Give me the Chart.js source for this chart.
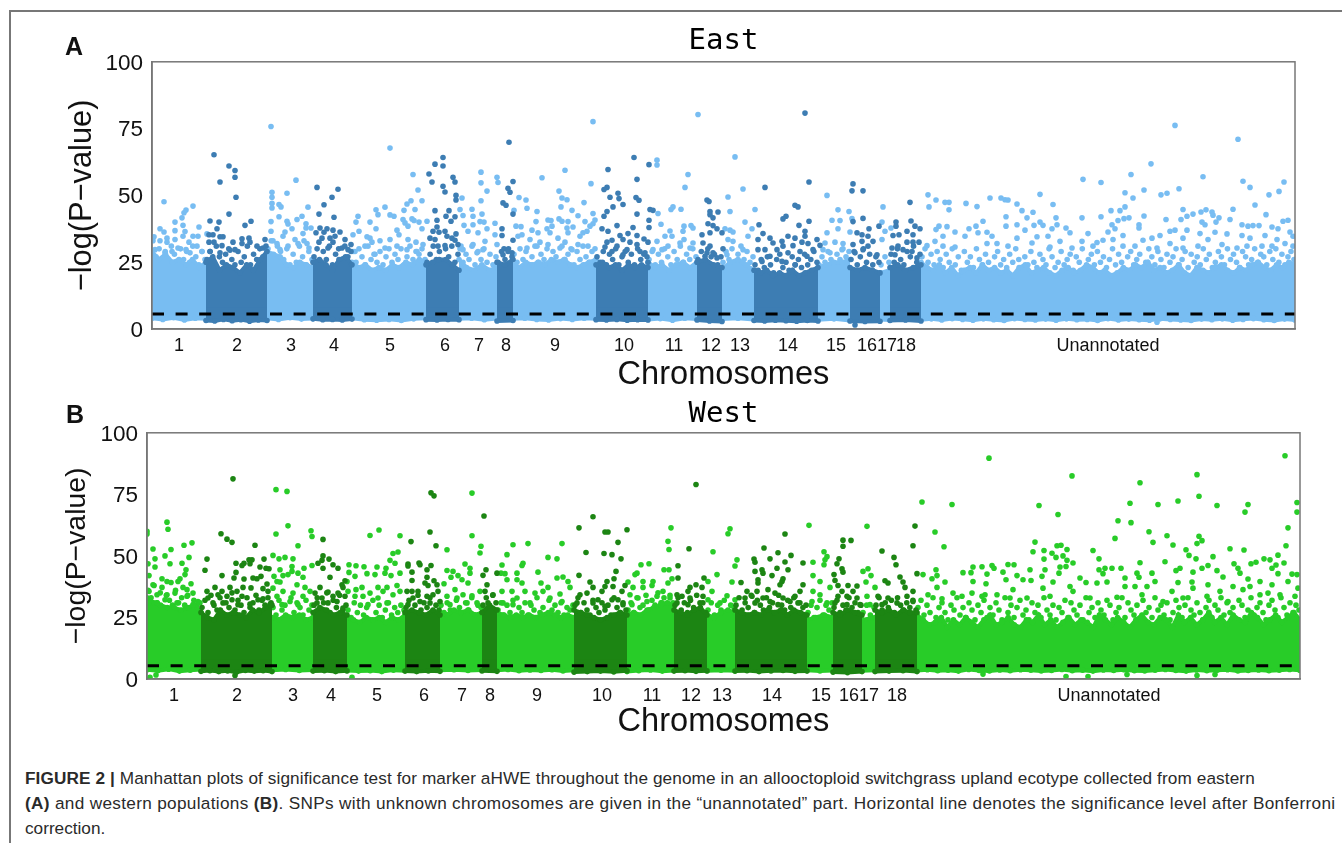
<!DOCTYPE html>
<html>
<head>
<meta charset="utf-8">
<script src="https://cdn.jsdelivr.net/npm/chart.js@4/dist/chart.umd.min.js"></script>
<style>
body { margin: 0; background: #fff; width: 1342px; height: 843px; position: relative; overflow: hidden; font-family: "Liberation Sans", Arial, sans-serif; }
canvas { position: absolute; left: 0; }
#chartEast { top: 0; }
#chartWest { top: 395px; }
.panel { position: absolute; font-weight: bold; font-size: 25px; line-height: 25px; color: #111; }
.rule { position: absolute; background: #777; }
.cap { position: absolute; left: 25px; font-size: 17.2px; line-height: 18px; white-space: nowrap; color: #2a2a2a; }
</style>
</head>
<body>
<div class="rule" style="left:9px;top:10px;width:1333px;height:1.5px"></div>
<div class="rule" style="left:9px;top:10px;width:1.5px;height:833px"></div>
<canvas id="chartEast" width="1342" height="395"></canvas>
<canvas id="chartWest" width="1342" height="350"></canvas>
<div class="panel" style="left:65px;top:34px">A</div>
<div class="panel" style="left:66px;top:402px">B</div>
<div class="cap" style="top:769px;letter-spacing:0.1px"><b>FIGURE 2 |</b> Manhattan plots of significance test for marker aHWE throughout the genome in an allooctoploid switchgrass upland ecotype collected from eastern</div>
<div class="cap" style="top:794px;letter-spacing:0.32px"><b>(A)</b> and western populations <b>(B)</b>. SNPs with unknown chromosomes are given in the “unannotated” part. Horizontal line denotes the significance level after Bonferroni</div>
<div class="cap" style="top:819px">correction.</div>
<script>
const chromosomes = ['1','2','3','4','5','6','7','8','9','10','11','12','13','14','15','16','17','18','Unannotated'];
const eastTicks = [27,85,139,182,238,293,327,354,403,472,522,559,588,636,684,715,735,754,956];
const westTicks = [27,90,146,184,230,277,315,343,390,455,505,544,575,625,674,702,722,750,962];
const eastEdges = [0,54,115,161,200,274,307,345,361,444,496,545,570,602,666,698,728,738,769,1143];
const westEdges = [0,54,125,166,200,258,293,335,350,427,480,527,560,588,660,686,715,728,770,1153];
const eastCutoff = 5.6;
const westCutoff = 5.4;

// top of the packed band, one list per chromosome
const eastTops = [
  [29,26,28,25,26,24,26,23,25],
  [25,27,22,24,23,21,24,22,26,29],
  [29,28,27,24,23,25,24,23],
  [25,26,24,22,26,27,24],
  [25,23,24,22,23,22,24,23,25,24,26,25],
  [24,25,26,26,24,22],
  [26,23,22,24,22,23],
  [25,24,26],
  [24,23,25,24,25,24,26,25,26,24,23,24,25,26],
  [24,25,23,24,22,24,23,24,23],
  [25,23,24,22,24,25,23,25],
  [25,26,24,23],
  [22,25,26,24,22],
  [22,21,22,20,21,20,22,20,21,22,23],
  [23,24,25,25,26],
  [23,22,23,22,21],
  [21,22],
  [23,24,22,23,24],
  [25,23,22,24,21,23,20,22,23,21,24,22,23,21,22,20,23,24,21,22,23,21,20,22,23,21,22,24,23,21,22,20,21,23,22,24,23,25,22,23,21,22,24,21,20,23,22,21,23,24,22,21,23,22,24,25,23,22,24,23,25,24]
];
const westTops = [
  [33,31,30,29,29,28,29,30,27],
  [27,25,24,28,26,27,26,25,28,27,29,30],
  [25,24,26,25,26,24,25],
  [27,29,28,26,27,26],
  [25,24,23,25,24,25,23,25,24,26],
  [27,28,27,26,28,26],
  [27,26,28,27,28,26,27],
  [27,30,28],
  [27,26,25,26,25,26,25,26,27,26,25,26,25],
  [28,27,26,25,24,25,26,27,26],
  [26,27,26,28,29,30,31,30],
  [28,27,26,28,29,26],
  [26,25,27,28,27],
  [28,27,26,27,26,28,27,28,26,28,27,26],
  [24,25,26,25],
  [27,26,28,27,26],
  [24,25],
  [28,27,28,26,28,27,27],
  [26,24,22,23,25,21,24,22,25,23,21,24,26,22,23,25,22,21,24,23,26,22,24,21,23,25,22,24,23,21,26,24,22,25,23,21,24,26,23,22,25,24,21,26,23,25,22,24,27,23,25,22,26,24,23,27,25,22,24,26,23,25,27,24]
];

// loose dots just above the packed band
const eastFringes = [
  [33,27,30,25,29,26,31,28,24,30,26,29,25,31,27,24,29,26],
  [26,29,24,31,27,25,28,30,26,24,29,25,27,31,24,28,26,30,27,31],
  [30,33,27,31,29,26,30,24,28,25,31,27,24,29,26],
  [27,30,25,29,26,31,24,28,30,26,31,27,29],
  [29,25,30,27,24,31,26,28,25,29,24,27,30,25,28,26,30,24,27,31,26,29,28,30,26],
  [25,28,31,26,29,24,30,27,31,25,28],
  [30,25,28,26,31,24,29,26,30,25,28,24,27],
  [25,29,26,30,27],
  [28,25,30,26,29,24,27,31,25,28,26,30,24,29,27,25,31,26,28,30,24,29,26,31,27,25,29,30],
  [27,25,29,24,28,26,30,24,27,29,25,28,24,30,26,28,27],
  [26,29,24,28,25,30,27,24,29,26,31,25,28,26,30,27],
  [26,29,25,30,27,28,24,27],
  [25,29,26,30,24,28,31,26,29,25,27],
  [24,22,26,23,27,24,21,26,28,23,25,22,27,24,26,23,28,24,26,29,25],
  [24,27,25,29,26,24,28,26,30,27,29],
  [26,29,24,27,30,25,28,24,27,25],
  [24,27,25],
  [28,25,30,26,24,29,27,31,25,28],
  [27,30,25,28,24,29,26,23,28,25,30,24,27,22,29,25,27,23,30,26,24,28,25,22,27,29,24,26,23,28,25,30,26,22,27,24,29,25,23,28,26,24,30,27,23,25,29,24,26,28,22,27,25,30,23,26,28,24,29,25,27,23,26,30,24,28,25,22,27,29,24,26,28,23,25,30,27,24,29,26,23,28,25,27,30,24,26,29,23,28,25,27,24,30,26,28,23,25,29,27,24,30,26,28,25,23,29,27,24,26,30,25,28,27,24,29,26,30,25,28,24,27,29,26]
];
const westFringes = [
  [36,33,38,31,35,29,34,32,30,36,31,33,30,34,29,32,30,31],
  [29,32,27,34,30,28,33,26,31,29,35,28,32,30,27,33,29,31,34,28,32,30,33,31],
  [29,26,32,28,30,25,33,27,31,29,26,32,28,30],
  [30,33,28,31,35,27,32,29,34,28,30],
  [28,25,31,27,30,26,29,24,32,27,30,25,28,31,26,29,27,30,28],
  [29,32,27,30,34,28,31,29,33,27,30,28],
  [30,27,31,28,26,32,29,27,31,28,33,26,30,29],
  [30,33,28,34,31],
  [28,31,26,30,27,32,25,29,27,31,26,30,28,33,27,29,26,32,28,30,27,31,26,29,28,30],
  [30,33,27,31,28,26,32,29,27,31,28,30,26,33,29,27,31,28],
  [28,31,27,33,29,30,34,28,32,30,35,31,33,29,34,31],
  [30,33,28,31,27,32,29,34,28,31,27],
  [28,31,26,30,28,32,27,30,29],
  [30,33,28,31,29,34,27,32,30,28,33,29,31,27,34,30,28,32,29,33,27,31,29,30],
  [27,30,25,29,32,26,30,28,31],
  [29,32,27,30,28,33,29,31,27,30],
  [27,30,26,29],
  [30,33,28,31,29,32,27,33,30,28,31,29,32,28],
  [29,32,26,30,27,33,25,29,31,27,24,30,28,33,26,29,25,31,28,24,30,27,32,25,29,26,31,28,24,33,27,30,25,29,32,26,28,24,31,27,30,25,33,28,26,30,24,29,27,32,25,31,28,26,30,24,33,27,29,25,31,28,26,32,30,24,27,29,33,25,31,28,26,30,24,32,27,29,25,33,28,30,26,31,24,27,32,29,25,30,33,28,26,31,27,24,29,32,25,30,28,33,26,31,27,29,24,32,30,25,28,33,26,29,31,27,24,30,32,28,25,33,29,26,31,27,30,28]
];

// bottom of the packed band
const eastBottoms = [
  [4,3.6,4.2,3.4,4,3.8],[3.2,3,3.6,3.1,3.5,2.9,3.4,3.2],[4,3.6,4.2,3.7,3.9],[3.8,3.5,3.6,3.4,3.7],[4,3.5,3.3,3.6,3.2,3.8,4],[3.5,3.4,3.6,3.5],[3.8,4,3.5,3.9],[3,3.2],
  [3.8,4,3.6,3.4,3.9,3.6,4,3.8],[3.5,3.4,3.6,3.3,3.5,3.4],[3.6,3.9,3.3,4,3.7],[3.4,3,2.8],[3.7,4,3.6],[3.2,3,3.3,3.1,2.9,3.2,3],[3.5,3.8,3.2],[3,2.8,2.9],[3.6,3.4],[3.2,3.4,3],
  [3.5,3.8,3.4,3.9,3.6,3.3,3.8,3.5,3.2,3.9,3.6,3.4,3.7,3.3,3.8,3.5,3.6,3.2,3.9,3.4,3.7,3.5,3.3,3.8,3.6,3.4,3.2,3.7,3.5,3.8,3.3,3.6,3.9,3.5,3.2,3.7,3.4]
];
const westBottoms = [
  [3.8,3.4,4,3.2,3.6,3.9],[3.1,3.4,3,3.3,2.8,3.5,3.2,3.4,3],[3.6,3.9,3.5,3.7],[3.2,3.4,3,3.3],[3.5,3.2,3.4,3,3.6,3.4],[3.2,3,3.3,3.1],[3.6,3.8,3.5,3.7],[3.3,3.1],
  [3.6,3.9,3.4,3.7,3.5,3.8,3.3,3.6],[2.8,3,3.2,2.9,3.3],[3,3.4,3.7,3.2,3.5],[3.2,3.4,3.1,3.3],[3.4,3.6,3.3],[3.2,3.4,3,3.3,3.5,3.1,3.2],[3.6,3.3,3.5],[2.8,2.6,3],[3.4,3.6],[3,3.2,3.4,3],
  [3.5,3.8,3.4,3.6,3.2,3.9,3.5,3.3,3.7,3.4,3.8,3.6,3.3,3.5,3.9,3.4,3.6,3.2,3.7,3.5,3.8,3.4,3.3,3.6,3.9,3.5,3.2,3.7,3.4,3.6,3.8,3.3,3.5,3.7,3.4,3.6,3.9,3.5]
];

// position along the genome, -log(P)
const eastLightA = [
  [12,47.6],[8,37.5],[12,36.3],[15,34],[2,34.5],[23,40],[30,41.6],[32,43.5],[34,44.5],[41,46],[31,38.8],[23,36.8],[33,36.5],[47,38.2],[41,34.7],[46,34.7],[37,32.5],[23,33.5],[31,34.7],[15,32.5],[55,35.6],[8,33],[45,31],[34,29.7],[20,29],[26,30.3],[3,29.7],[13,28.5],[38,28.5],[50,29],
  [119,75.8],[120,51.2],[120,49.3],[120,47],[120,45.3],[127,46.6],[129,45.7],[135,50.8],[144,55.7],[156,45.6],[119,40.2],[127,42],[135,40.3],[136,39.3],[145,41],[150,42.2],[154,39.4],[159,37.8],[140,37.5],[154,37.8],[133,36.3],[119,36.6],[151,35.7],[131,34.7],[143,33.5],[121,33],[125,32],[136,31],[155,32],[146,32],[152,33],[157,30.3],[128,29.7],
  [238,67.7],[261,57.8],[266,52],[233,45.6],[224,44.6],[226,42.8],[238,42.7],[242,42.2],[259,48],[255,46.8],[252,44.4],[263,44.7],[270,48],[251,41],[260,41.2],[262,40.6],[267,40],[275,40.3],[206,42.2],[204,40],[218,40],[253,39.7],[256,38.5],[270,37.5],[207,36.6],[224,37.5],[215,34.5],[218,34],[245,37],[247,35.3],[256,33.5],[220,32.5],[228,33],[238,33.5],[264,32.5],[271,31.6],[201,35.3],[213,31],[245,31],[233,30.3],[255,29.7],[265,29],[223,28],[203,29],
  [329,58.7],[329,54.7],[335,51.6],[345,56.8],[346,54.8],[310,49],[329,48],[320,44.8],[330,43],[308,44.7],[311,42.5],[321,42.2],[328,40.2],[332,40],[343,39.6],[312,38.8],[321,39],[335,37.5],[316,36.6],[343,35.3],[326,36],[311,29.7],[321,31.6],[333,32.8],[345,31.6],[325,28.5],[331,29.7],[309,31]
];
const eastLightB = [
  [390,56.6],[413,59.4],[367,49.2],[374,48.3],[375,45.2],[362,44.4],[385,44],[407,51.6],[410,49],[415,48.4],[409,45.7],[420,44.4],[432,47.3],[426,42.4],[441,43.2],[439,54.4],[441,77.6],[384,40.2],[396,40.8],[399,40.6],[407,41.2],[410,40.3],[416,40.2],[433,40.2],[443,40.8],[364,38.5],[369,38.3],[380,37],[386,36],[395,37.5],[400,38.5],[415,37.8],[421,38.2],[438,38.5],[441,39.4],[435,36.6],[366,34.7],[378,33.5],[370,35.3],[388,32.5],[398,36],[406,34],[416,36],[428,34.7],[431,36],[375,30.3],[385,31],[396,31.6],[408,30.3],[413,32.5],[426,31.6],[420,29.7],[436,31],
  [505,63.2],[505,61.4],[536,57.8],[533,53],[521,45.7],[519,44.7],[529,44.8],[506,43.2],[509,39.2],[518,36.7],[532,38.5],[539,38.7],[513,34.7],[520,34.7],[531,36.6],[541,37.8],[505,32.8],[516,31],[528,32.2],[538,30.3],[501,29.7],[510,29.7],[532,33.5],[541,32.2],
  [546,80.3],[583,64.4],[591,52.4],[576,49.4],[578,44],[593,40],[573,37.5],[578,37],[581,36.3],[576,33.5],[581,32.8],[596,34.7],[600,37.5],[591,29.7],[575,27.8],
  [603,44.7],[675,50],[686,44.6],[697,44],[680,40.7],[688,40.6],[686,37.5],[675,36],[698,36.3],[700,41.3],[673,32.2],[683,32.5],[691,32],[690,29.7],[678,28.5],[671,29.7],
  [731,45.7],[730,40],[733,36.6],[739,37.8],[730,33.5]
];
const eastUnannotated = [
  [1023,76.2],[1086,71],[999,61.8],[979,57.8],[1051,57],[931,56],[949,54.8],[1091,55.3],[1132,55],[1098,53],[973,51],[992,52],[1027,52.5],[1015,50.8],[1009,50.2],[981,49],[1127,51.5],[1117,50.2],[888,50.4],[776,50.2],[777,45.7],[784,48.3],[793,47.4],[797,47.4],[797,44.6],[814,47],[825,45.8],[838,49],[849,49],[853,48.4],[856,48.3],[865,46.8],[870,44.3],[881,43.7],[875,41.6],[901,46.6],[854,42],[904,41.6],[930,41.6],[949,42],[959,44.3],[968,44.3],[973,45.7],[992,42.3],[972,41.3],[977,41.6],[966,40.6],[960,39],[1014,41],[1029,41],[1031,44.7],[1035,42.2],[1041,43],[1049,43.8],[1054,44.6],[1060,43.8],[1061,42.6],[1067,41.6],[1078,41],[1081,44.8],[1103,46.4],[1114,42.8],[1131,40.3],[1136,40.7],
  [1090,39],[1096,38.5],[1101,38.7],[1107,38.7],[1120,38.2],[1126,37.5],[1050,40],[1053,39],[1064,40],[831,40.3],[824,38.5],[817,37.5],[854,38.5],[865,39],[888,40],[882,38.8],[891,38.8],[787,38.5],[795,38.3],[784,37.2],[803,36.3],[873,37],[900,37.5],[905,39],[914,37.8],[918,36],[936,35.7],[956,36.3],[963,37.5],[987,39],[987,37.8],[971,35],[1000,34],[1018,36.6],[1023,37],[1008,35],[1035,37],[1048,35.7],[1063,36.2],[1075,35.6],[1090,35],[1113,35],[1138,36.3],[1141,34.7],[1125,33.5],[1098,34],[813,34.7],[826,36],[835,36.2],[840,34.7],[791,34.7],[783,32.8],[865,34],[885,34.5],[896,34.7],[930,32.8],[951,33.2],[961,33.5],[991,33.2],[1031,34],[1056,33.5],
  [775,31.2],[791,31],[803,30.7],[835,32],[845,32],[856,31],[880,32.2],[898,30.7],[908,32.8],[920,30.3],[941,31],[945,32.4],[971,31],[983,31],[1005,30.3],[1018,32],[1031,30.3],[1046,31],[1070,31.6],[1085,30.3],[1095,31],[1110,31],[1120,31],[1133,32],[1141,31],[1005,2.5]
];
const eastDarkA = [
  [62,65.2],[68,55],[77,61],[83,59.3],[83,56.8],[84,49.3],[77,43],[58,40.4],[67,40],[93,38.8],[99,40.3],[65,37.5],[57,35.3],[61,35.3],[68,34.5],[71,34.5],[57,32.5],[62,32.5],[81,32.5],[90,33.8],[97,34],[98,32.5],[90,32],[70,31.2],[105,31],[113,33.5],[111,30.3],[78,29.5],[83,29.7],[58,29],[68,28.5],
  [165,53],[186,52.3],[180,49.3],[172,46.5],[167,43],[182,41.8],[168,37.8],[175,37.5],[164,36],[172,36.2],[181,37],[188,36.3],[183,34.7],[170,34],[178,34],[193,33.5],[167,32.5],[181,32.5],[199,31.6],[176,30.3],[190,30.3],[196,29.7],
  [291,64.2],[283,61.7],[291,61],[277,58],[301,56.8],[280,55],[303,55],[291,53.4],[293,51.3],[304,50],[304,48.3],[283,44.3],[297,44.3],[294,42.2],[303,42],[285,40.7],[299,40.3],[285,38.2],[281,36.6],[287,36.2],[293,36.6],[304,35.6],[278,34],[283,33.5],[295,34.7],[300,34],[303,33.2],[293,31.2],[306,31.6],[286,31],
  [357,69.9],[361,55.2],[356,52.7],[358,51.2],[351,47.2],[354,46.3],[361,43],[350,37.5],[350,35],[361,33.2],[352,30],[356,29],[360,28.5],[351,27.8]
];
const eastDarkB = [
  [482,64.2],[456,59.7],[485,56],[497,61.5],[455,53],[452,52.2],[466,50.8],[458,49.3],[467,48.8],[484,49.2],[487,48.2],[471,46.6],[461,45.7],[498,44.7],[501,44.4],[455,44],[452,42.2],[485,43],[497,40.7],[497,38],[465,38.7],[481,38],[450,37.5],[456,36.6],[468,35],[476,35.7],[485,35],[460,33.2],[455,32.5],[471,33.5],[492,33.7],[478,32.5],[453,30.7],[465,31],[485,31.6],[496,32.5],[475,29.7],[460,29],[488,29],[493,28.5],[471,27.8],[496,25],
  [555,48.3],[557,47.7],[558,44],[558,42.8],[566,43.8],[561,41.6],[556,39.4],[561,38.7],[565,37.5],[570,36],[558,36],[550,35.3],[551,32.2],[571,30],[558,31],[555,28.5],[561,28.5],[553,27.2],[565,26.6],
  [653,80.8],[657,55],[613,53],[643,46.3],[646,45.7],[634,42.2],[631,41.2],[607,39],[657,40.3],[647,38.8],[653,36.6],[653,34.7],[611,35.7],[618,34],[643,34],[636,34.7],[630,32.8],[606,33.5],[665,33.5],[668,31.3],[621,32.2],[641,31.2],[650,32.5],[656,32],[613,29.7],[625,29.7],[631,31],[606,29.7],[661,29.7],[648,29],[636,28.5],[618,27.2],[655,27.2],[610,25.3],[630,25.3],[643,24],
  [701,54.3],[700,51.7],[711,51.7],[701,40.2],[711,41.4],[717,37.5],[705,36],[710,35.3],[716,34.7],[721,32.8],[701,31.6],[710,32.8],[716,31],[725,27.8],[703,28.5],[711,29.7],[703,1.5],[727,38.5],
  [758,47.4],[759,40.4],[744,40],[744,38.5],[763,38.5],[768,37.5],[755,36.6],[741,35],[747,35.3],[761,35.3],[767,32.5],[755,32.5],[740,30.3],[746,31],[761,32.5],[751,29.7],[760,29],[743,27.8],[765,26.6]
];

const westLightA = [
  [0,60],[0,58.9],[20,63.7],[21,60.8],[6,52.8],[24,52.6],[37,54.3],[45,55.3],[18,50],[42,49.4],[8,48.8],[35,47],[23,46.8],[8,45.5],[1,46.8],[39,44.4],[2,42],[38,42.4],[15,40.7],[33,40.7],[20,39.6],[24,39.2],[44,38.7],[31,39.6],[6,38.3],[15,37.2],[36,37.2],[40,36.3],[46,34.9],[28,34.9],[20,34.2],[40,33.6],[2,35.6],[10,34.2],[51,31.5],[46,30.2],[18,32.2],[30,30.9],[2,30.9],[10,30.9],[3,0.7],[9,1.6],
  [129,76.9],[140,76.2],[141,62.2],[129,58.9],[151,54.1],[126,50.2],[132,48.8],[138,49.4],[146,48.8],[145,45.7],[145,43.7],[157,45],[165,46.1],[133,44.4],[151,43],[136,42],[141,42.4],[127,41.7],[156,41.3],[130,39.6],[133,39.4],[150,38.3],[158,37.2],[136,35.6],[146,34.9],[126,36.9],[163,35.6],[156,33.6],[130,33.6],[143,31.5],[135,30.2],[151,30.2],[164,60.2],[165,57.9],
  [232,60.5],[223,58.3],[253,58.2],[246,51],[251,51.6],[243,48.2],[239,45],[248,47],[202,46.4],[209,46],[217,45.6],[230,45.5],[238,43],[220,42.8],[202,43.3],[208,41.7],[228,42.4],[253,43],[244,42],[200,39.6],[250,38],[240,37.2],[231,37.2],[215,37.2],[209,36.3],[201,35.6],[223,34.9],[236,35.6],[246,34.2],[208,33.6],[216,33.6],[231,32.9],[253,35.6],[221,30.2],[240,30.9],[205,0.7],
  [325,75.5],[325,58.2],[334,53.9],[300,52.5],[333,51.2],[318,46.7],[300,44.1],[306,43.7],[323,45],[311,42],[304,41.3],[315,40.3],[323,43],[321,39],[297,38.7],[308,36.3],[300,33.6],[316,34.2],[325,33.8],[310,32.9],[333,35.6],[303,30.2],[320,30.9],[330,30.9]
];
const westLightB = [
  [366,54.5],[381,55],[415,55],[360,50.5],[355,46.3],[376,47],[375,46.1],[401,49.4],[410,48.8],[391,43.4],[354,43],[358,42.8],[370,43],[360,40.3],[370,40.3],[375,39],[394,39],[410,41],[416,41.4],[421,39.6],[423,37.2],[401,37.2],[365,35.6],[378,35.6],[388,34.9],[396,35.6],[413,34.5],[355,35.6],[403,32.9],[370,32.9],[383,30.9],[356,30.9],[415,31.5],[366,30.2],
  [524,61.4],[521,55.9],[522,52.6],[502,46.8],[494,46.4],[490,43],[517,44.4],[522,44.4],[488,42.4],[481,39.4],[496,39.6],[506,39.6],[525,40.7],[521,39],[486,37.2],[496,37.2],[505,38],[483,34.2],[491,32.9],[516,35.6],[510,33.6],[500,31.5],[523,32.9],[485,30.2],[515,30.9],
  [583,61],[581,59],[566,51.7],[570,42.4],[561,39.6],[585,39.4],[565,35.6],[580,33.8],[588,32.2],[573,30.9],[561,32.2],[590,48.4],[588,45.9],
  [662,62.4],[677,51.7],[680,49.7],[678,48.4],[677,46.4],[666,47.4],[666,42],[673,39.6],[683,37.2],[666,35.6],[673,34.2],[665,31.5],[680,30.9],
  [720,62],[721,44.8],[716,43.7],[724,42],[719,39.4],[728,37.2],[720,33.6],[723,30.2]
];
const westUnannotated = [
  [842,89.7],[925,82.5],[1138,90.7],[1050,83],[993,79.7],[1052,74.2],[775,71.9],[805,70.9],[892,70.5],[983,71.4],[1011,70.9],[1031,72.3],[1101,70.9],[1070,70.5],[1150,71.7],[1150,67.8],[1098,67.8],[911,66.8],[971,64.3],[984,63.5],[1141,61.4],[1002,59.8],[788,59.7],[1020,58.2],[968,57.1],[1052,58],[1055,56.2],[1050,55],[1006,55.5],[1026,54.4],[797,53.7],[888,55.6],[886,51.7],[897,52.2],[905,51.1],[910,54.1],[914,54.3],[920,52.6],[909,49.4],[916,50],[897,48.7],[920,48.2],[926,47.1],[946,52.2],[952,48.8],[1139,54.1],[1083,52.9],[1097,52.4],[1039,52.5],[1042,50.2],[1066,49.7],[1049,48.8],[1018,47.6],[993,47.2],[1131,50.3],[1117,48.8],[1123,48.4],[1137,47.1],[1109,47.4],[1104,46.8],[1087,46.8],[1091,45],[1129,46.3],[1125,45],[1061,46.1],[1055,45],[1033,45],
  [789,44.4],[826,45.5],[835,45.6],[845,46.1],[847,45],[861,46.5],[867,46.4],[883,44.4],[898,44.4],[913,45.5],[919,45.7],[952,44.4],[958,45],[965,45],[974,45],[816,43.2],[824,43.2],[840,42.6],[856,43.4],[870,42],[895,41.7],[912,43],[956,42.8],[990,43],[1005,43],[1029,44],[1046,43.4],[1070,44],[1093,43],[1131,42.8],[1145,42.6],[1150,42.4],[776,42.4],[790,42],[785,40.7],[798,39.4],[826,39.6],[839,38.7],[859,40.3],[876,40.3],[884,40],[906,39.4],[933,41],[939,39.2],[950,39],[960,39.4],[978,41],[992,41.3],[1008,39.6],[1031,39.2],[1045,39.4],[1061,38.3],[1076,41.4],[1101,40.6],[1113,39.6],[1125,38.3],[1141,39.6],[1086,37.6],[1103,37.6],
  [790,37.2],[806,34.9],[825,34.9],[838,34.2],[850,34.2],[866,36.3],[896,36.9],[923,37.6],[978,37.6],[988,37.6],[1000,37.6],[1025,35.6],[1046,36.9],[1073,35.6],[1096,36.3],[1121,34.9],[1151,36.9],[781,34.2],[795,32.6],[815,33.6],[835,33.6],[863,32.9],[880,32.9],[903,33.6],[926,35.6],[943,32.9],[970,33.2],[995,34.2],[1016,31.5],[1036,32.9],[1060,33.6],[1081,31.5],[1113,34.2],[1133,34.2],[1148,33.6],[919,1],[941,1],[980,1.8],[1050,1.4],[1068,1.8],[836,2]
];
const westDarkA = [
  [86,81.3],[74,59],[80,56.8],[85,55.5],[108,54.3],[60,48.7],[58,44.2],[75,42],[89,47],[95,46.1],[97,47],[103,46.8],[105,48.4],[102,48.4],[117,48.7],[113,45.5],[119,45],[122,44.8],[89,43.3],[87,41],[97,40.6],[114,41.7],[110,40.7],[106,41],[120,38.6],[116,36.7],[104,37],[96,37.2],[83,37.2],[60,35.6],[68,37.2],[75,35.6],[90,35.6],[71,34.2],[61,32.9],[80,33.6],[95,33.6],[85,32.2],[111,32.2],[103,30.4],[116,32.6],[121,35.6],[66,30.9],[76,30.9],[91,30.2],[123,30.2],[88,1.4],
  [176,56.7],[176,50],[175,48.2],[182,48.7],[186,46.4],[191,45],[176,45],[171,47],[183,41.3],[198,39.9],[195,38.3],[196,37.2],[173,37.2],[168,34.9],[181,35.3],[191,34.9],[198,33.6],[186,33.6],[175,32.9],[170,30.9],[190,31.5],[181,30.9],[196,28.8],
  [284,75.6],[287,74.4],[283,59.7],[264,55.8],[289,54.1],[261,46.7],[261,45.9],[272,47.1],[273,46.4],[284,46.1],[280,44.4],[265,43.4],[265,40],[280,41.3],[278,39],[281,38],[287,39.9],[290,38.3],[291,35.6],[265,35.6],[271,35.6],[260,35.6],[280,33.6],[286,34.2],[266,32.9],[293,31.5],[273,31.5],[261,30.2],[283,30.9],
  [337,66.2],[339,44.4],[336,42.1],[350,43],[340,38.3],[338,35.6],[346,34.2],[341,30.9]
];
const westDarkB = [
  [446,65.9],[432,61.4],[458,59.7],[461,59.7],[480,60.6],[471,55.5],[439,51.4],[457,51],[465,50.5],[474,48.8],[469,43.7],[432,42.1],[467,40.7],[460,39.6],[443,39.4],[446,37.2],[466,37.6],[458,37.6],[478,38],[475,35.6],[440,34.9],[433,34.2],[455,35.6],[451,32.2],[465,32.2],[471,32.2],[430,30.9],[446,30.9],[476,30.2],[458,29.5],
  [549,79],[542,52.9],[531,46],[531,41],[557,41],[549,38.3],[543,37.2],[541,35.6],[555,37.2],[530,34.2],[535,33.6],[543,32.9],[556,33.6],[530,30.9],[553,30.9],[541,30.2],
  [638,58.9],[617,53.2],[631,51.3],[644,50.2],[623,48.8],[638,47.5],[656,47.1],[607,48.7],[608,47.4],[630,45],[608,43.7],[615,44.4],[616,43],[641,44.4],[625,42],[636,40.7],[635,39.6],[611,40.3],[611,39],[594,39.2],[633,38.3],[656,38.3],[600,35.6],[610,35.6],[621,36.3],[628,34.9],[653,35.6],[648,33.6],[605,33.6],[598,32.9],[616,32.9],[636,32.9],[623,31.5],[643,31.5],[631,30.2],[651,30.9],[608,30.9],
  [696,56.4],[704,56.3],[696,53.9],[692,48.8],[690,46.8],[695,44.8],[696,43.4],[687,42.4],[688,40],[691,38],[701,38],[710,37.8],[695,35.6],[706,35.6],[691,33.6],[700,33.6],[710,32.9],[688,30.9],[713,30.2],[700,30.2],
  [735,52],[747,49.4],[749,46.4],[766,54.1],[768,62.1],[738,39.9],[753,41.4],[756,39.4],[758,37.2],[770,42.8],[741,39],[766,35.6],[731,33.6],[741,32.9],[750,30.9],[760,33.6],[766,31.5],[735,30.2]
];

const eastLight = '#78bdf2';
const eastDark = '#3d7db3';
const westLight = '#28cc28';
const westDark = '#1c8513';
const dotRadius = 2.8;

const plotFrame = {
  id: 'plotFrame',
  afterDraw(chart) {
    const { ctx, chartArea: a } = chart;
    ctx.save();
    ctx.strokeStyle = '#777';
    ctx.lineWidth = 1.5;
    ctx.strokeRect(a.left, a.top, a.right - a.left, a.bottom - a.top);
    ctx.restore();
  }
};

function toDots(pairs) {
  return pairs.map(p => ({ x: p[0], y: p[1] }));
}

// spread one list of readings evenly across a chromosome's span
function acrossSpan(values, from, to) {
  const step = values.length > 1 ? (to - from) / (values.length - 1) : 0;
  return values.map((y, i) => ({ x: from + i * step, y }));
}

function bandDatasets(tops, bottoms, fringes, edges, light, dark) {
  const out = [];
  tops.forEach((top, i) => {
    const color = i % 2 === 0 || i === 18 ? light : dark;
    const order = color === dark ? 3 : 5;
    const from = edges[i];
    const to = edges[i + 1];
    [[top, 8], [bottoms[i], 12]].forEach(([list, base]) => {
      out.push({
        data: acrossSpan(list, from, to),
        showLine: true,
        tension: 0,
        fill: { value: base },
        borderColor: color,
        backgroundColor: color,
        borderWidth: 4,
        pointRadius: dotRadius,
        pointBackgroundColor: color,
        pointBorderWidth: 0,
        order
      });
    });
    out.push({
      data: acrossSpan(fringes[i], from + 1, to - 1),
      backgroundColor: color,
      pointRadius: dotRadius,
      pointBorderWidth: 0,
      order
    });
  });
  return out;
}

function dotDataset(pairs, color, order) {
  return { data: toDots(pairs), backgroundColor: color, pointRadius: dotRadius, pointBorderWidth: 0, order };
}

function drawPanel(id, opts) {
  const datasets = [
    { data: [{ x: 0, y: opts.cutoff }, { x: opts.xMax, y: opts.cutoff }], showLine: true, borderColor: '#000', borderWidth: 3, borderDash: [12, 11.6], pointRadius: 0, order: 0 },
    dotDataset(opts.darkDots, opts.dark, 2),
    dotDataset(opts.lightDots, opts.light, 4),
    ...bandDatasets(opts.tops, opts.bottoms, opts.fringes, opts.edges, opts.light, opts.dark)
  ];
  new Chart(document.getElementById(id), {
    type: 'scatter',
    data: { datasets },
    plugins: [plotFrame],
    options: {
      responsive: false,
      animation: false,
      events: [],
      layout: { padding: opts.padding },
      plugins: {
        legend: { display: false },
        tooltip: { enabled: false },
        title: {
          display: true,
          text: opts.title,
          color: '#000',
          fullSize: false,
          font: { family: '"DejaVu Sans Mono", monospace', size: 29, weight: 'normal', lineHeight: 1.2 },
          padding: opts.titlePadding
        }
      },
      scales: {
        x: {
          type: 'linear',
          min: 0,
          max: opts.xMax,
          grid: { display: false, drawTicks: true, tickLength: 6, tickColor: '#444' },
          border: { color: '#777', width: 1.5 },
          afterBuildTicks: s => { s.ticks = opts.ticks.map(v => ({ value: v })); },
          afterFit: s => { s.height = opts.xAxisHeight; },
          ticks: {
            autoSkip: false,
            maxRotation: 0,
            color: '#111',
            padding: 0,
            font: { family: '"Liberation Sans"', size: 18 },
            callback: (v, i) => chromosomes[i]
          },
          title: {
            display: true,
            text: 'Chromosomes',
            color: '#111',
            font: { family: '"Liberation Sans"', size: 32.6, lineHeight: 1.2 },
            padding: { top: 0, bottom: opts.xTitleBottom }
          }
        },
        y: {
          min: 0,
          max: 100,
          grid: { display: false, tickLength: 6, tickColor: '#555' },
          border: { color: '#777', width: 1.5 },
          afterFit: s => { s.width = opts.yAxisWidth; },
          ticks: {
            stepSize: 25,
            color: '#111',
            padding: 3,
            labelOffset: 1.5,
            font: { family: '"Liberation Sans"', size: 22.5 }
          },
          title: {
            display: true,
            text: '−log(P−value)',
            color: '#111',
            font: { family: '"Liberation Sans"', size: opts.yTitleSize, lineHeight: 1.2 },
            padding: { top: opts.yTitleLeft, bottom: 0 }
          }
        }
      }
    }
  });
}

drawPanel('chartEast', {
  title: 'East', cutoff: eastCutoff, xMax: 1143, ticks: eastTicks, edges: eastEdges,
  tops: eastTops, bottoms: eastBottoms, fringes: eastFringes, light: eastLight, dark: eastDark,
  lightDots: [...eastLightA, ...eastLightB, ...eastUnannotated],
  darkDots: [...eastDarkA, ...eastDarkB],
  padding: { top: 24, right: 47, bottom: 0, left: 0 }, titlePadding: { top: 0, bottom: 3 },
  xAxisHeight: 66, yAxisWidth: 152, xTitleBottom: 0.5, yTitleSize: 30.8, yTitleLeft: 64
});
drawPanel('chartWest', {
  title: 'West', cutoff: westCutoff, xMax: 1153, ticks: westTicks, edges: westEdges,
  tops: westTops, bottoms: westBottoms, fringes: westFringes, light: westLight, dark: westDark,
  lightDots: [...westLightA, ...westLightB, ...westUnannotated],
  darkDots: [...westDarkA, ...westDarkB],
  padding: { top: 2, right: 42, bottom: 0, left: 0 }, titlePadding: { top: 0, bottom: 1 },
  xAxisHeight: 66, yAxisWidth: 147, xTitleBottom: 3, yTitleSize: 28.4, yTitleLeft: 60
});
</script>
</body>
</html>
